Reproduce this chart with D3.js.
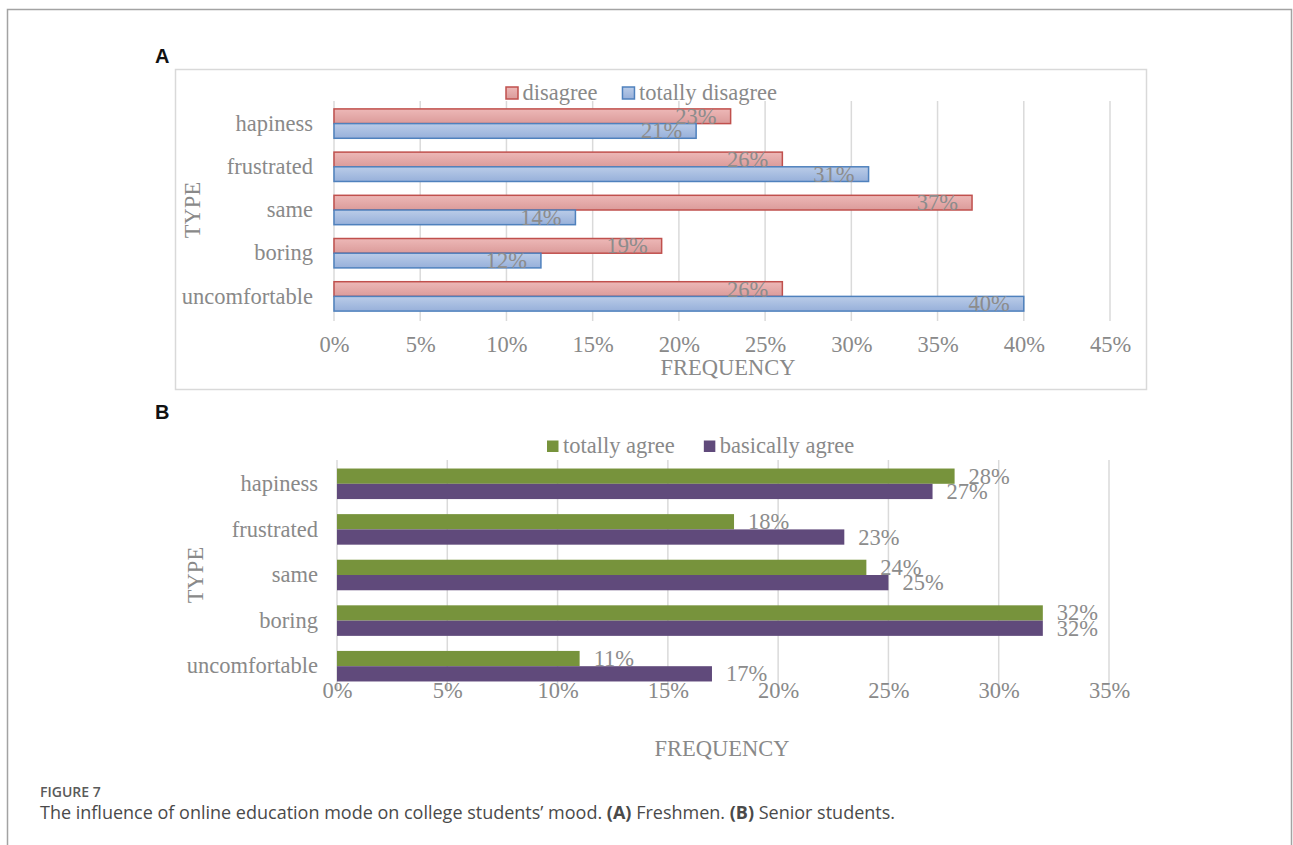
<!DOCTYPE html>
<html>
<head>
<meta charset="utf-8">
<script src="https://cdn.jsdelivr.net/npm/d3@7"></script>
<style>
  html, body { margin: 0; padding: 0; background: #ffffff; }
  svg { display: block; }
</style>
</head>
<body>
<svg id="fig" width="1293" height="845"></svg>
<script>
// Mood categories (top to bottom)
const categories = ["hapiness", "frustrated", "same", "boring", "uncomfortable"];

// Panel A — freshmen (percent)
const seriesA = ["disagree", "totally disagree"];
const disagree = [23, 26, 37, 19, 26];
const totallyDisagree = [21, 31, 14, 12, 40];
const ticksA = [0, 5, 10, 15, 20, 25, 30, 35, 40, 45];

// Panel B — senior students (percent)
const seriesB = ["totally agree", "basically agree"];
const totallyAgree = [28, 18, 24, 32, 11];
const basicallyAgree = [27, 23, 25, 32, 17];
const ticksB = [0, 5, 10, 15, 20, 25, 30, 35];

const svg = d3.select("#fig");
const serif = "'Liberation Serif', 'Times New Roman', serif";
const textGray = "#898989";
const labelGray = "#8c8c8c";
const fs = 22.5;

// gradients for panel A bars
const defs = svg.append("defs");
function grad(id, top, bottom) {
  const g = defs.append("linearGradient").attr("id", id)
    .attr("x1", 0).attr("y1", 0).attr("x2", 0).attr("y2", 1);
  g.append("stop").attr("offset", "0%").attr("stop-color", top);
  g.append("stop").attr("offset", "100%").attr("stop-color", bottom);
}
grad("gRed", "#edb8b7", "#db9b9a");
grad("gBlue", "#bacce8", "#97b0da");

// outer figure frame (open at the bottom)
svg.append("path")
  .attr("d", "M7.5,845 L7.5,9.5 L1291.5,9.5 L1291.5,845")
  .attr("fill", "none").attr("stroke", "#a3a3a3").attr("stroke-width", 1.5);

// panel letters
svg.append("text").attr("x", 155).attr("y", 63).text("A")
  .attr("font-family", "'Liberation Sans', Arial, sans-serif")
  .attr("font-weight", "bold").attr("font-size", 20).attr("fill", "#111");
svg.append("text").attr("x", 155).attr("y", 419).text("B")
  .attr("font-family", "'Liberation Sans', Arial, sans-serif")
  .attr("font-weight", "bold").attr("font-size", 20).attr("fill", "#111");

// chart area border for panel A
svg.append("rect").attr("x", 175.5).attr("y", 69.5).attr("width", 971).attr("height", 320)
  .attr("fill", "none").attr("stroke", "#d9d9d9").attr("stroke-width", 1.5);

function drawPanel(cfg) {
  const g = svg.append("g");
  const x = d3.scaleLinear().domain([0, cfg.max]).range([cfg.x0, cfg.x1]);
  const y = d3.scaleBand().domain(categories).range([cfg.yTop, cfg.yBot])
    .paddingInner(cfg.pad).paddingOuter(cfg.pad / 2);
  const ys = d3.scaleBand().domain(cfg.series).range([0, y.bandwidth()]);

  // vertical gridlines
  g.append("g").selectAll("line").data(cfg.ticks).join("line")
    .attr("x1", d => x(d)).attr("x2", d => x(d))
    .attr("y1", cfg.yTop - 1).attr("y2", cfg.yBot + 3)
    .attr("stroke", "#dadada").attr("stroke-width", 1.5);

  // x axis tick labels
  const axis = d3.axisBottom(x).tickValues(cfg.ticks).tickSize(0).tickPadding(0)
    .tickFormat(d => d + "%");
  const ax = g.append("g").attr("transform", `translate(0,${cfg.tickY})`).call(axis);
  ax.select(".domain").remove();
  ax.selectAll("text").attr("font-family", serif).attr("font-size", fs)
    .attr("fill", textGray).attr("dy", 0).attr("y", 0);

  // category labels
  const ay = d3.axisLeft(y).tickSize(0).tickPadding(0);
  const cy = g.append("g").attr("transform", `translate(${cfg.catX},0)`).call(ay);
  cy.select(".domain").remove();
  cy.selectAll("text").attr("font-family", serif).attr("font-size", fs)
    .attr("fill", textGray).attr("dy", "0.32em");

  // bars
  const rows = categories.map((c, i) => ({ c, vals: cfg.values.map(v => v[i]) }));
  const rowG = g.append("g").selectAll("g").data(rows).join("g")
    .attr("transform", d => `translate(0,${y(d.c)})`);
  rowG.selectAll("rect").data(d => d.vals.map((v, k) => ({ v, s: cfg.series[k], k })))
    .join("rect")
    .attr("x", x(0)).attr("y", d => ys(d.s))
    .attr("width", d => x(d.v) - x(0)).attr("height", ys.bandwidth())
    .attr("fill", d => cfg.fills[d.k])
    .attr("stroke", d => cfg.strokes[d.k] || "none")
    .attr("stroke-width", cfg.strokes.length ? 1.5 : 0);

  // value labels
  rowG.selectAll("text").data(d => d.vals.map((v, k) => ({ v, s: cfg.series[k], k })))
    .join("text")
    .attr("x", d => cfg.inside ? x(d.v) - 14 : x(d.v) + 14)
    .attr("y", d => ys(d.s) + ys.bandwidth() / 2 + 7.5)
    .attr("text-anchor", cfg.inside ? "end" : "start")
    .attr("font-family", serif).attr("font-size", fs).attr("fill", labelGray)
    .text(d => d.v + "%");

  // axis titles
  g.append("text").attr("x", cfg.titleX).attr("y", cfg.titleY)
    .attr("text-anchor", "middle").attr("font-family", serif).attr("font-size", fs)
    .attr("fill", textGray).text("FREQUENCY");
  g.append("text").attr("transform", `translate(${cfg.typeX},${cfg.typeY}) rotate(-90)`)
    .attr("text-anchor", "middle").attr("font-family", serif).attr("font-size", fs)
    .attr("fill", textGray).text("TYPE");

  // legend
  let lx = cfg.legX;
  cfg.series.forEach((s, k) => {
    g.append("rect").attr("x", lx).attr("y", cfg.legY - cfg.sq)
      .attr("width", cfg.sq).attr("height", cfg.sq)
      .attr("fill", cfg.fills[k])
      .attr("stroke", cfg.strokes[k] || "none").attr("stroke-width", cfg.strokes.length ? 1.5 : 0);
    const t = g.append("text").attr("x", lx + cfg.sq + 4.5).attr("y", cfg.legY + 1)
      .attr("font-family", serif).attr("font-size", fs).attr("fill", textGray).text(s);
    lx = lx + cfg.sq + 4.5 + t.node().getComputedTextLength() + cfg.gap;
  });
}

drawPanel({
  series: seriesA, values: [disagree, totallyDisagree], ticks: ticksA, max: 45,
  x0: 334, x1: 1110, yTop: 102, yBot: 318, pad: 0.32,
  fills: ["url(#gRed)", "url(#gBlue)"], strokes: ["#c0504d", "#4f81bd"],
  inside: true, catX: 313, tickY: 352, titleX: 728, titleY: 375,
  typeX: 200, typeY: 210, legX: 506, legY: 99, sq: 12, gap: 25
});

drawPanel({
  series: seriesB, values: [totallyAgree, basicallyAgree], ticks: ticksB, max: 35,
  x0: 337, x1: 1109, yTop: 461, yBot: 689, pad: 0.33,
  fills: ["#77933c", "#604a7b"], strokes: [],
  inside: false, catX: 318, tickY: 698, titleX: 722, titleY: 756,
  typeX: 203, typeY: 575, legX: 547, legY: 452, sq: 11.5, gap: 29
});

// caption
svg.append("text").attr("x", 40).attr("y", 797)
  .attr("font-family", "'Open Sans', 'Noto Sans', sans-serif").attr("font-weight", 600)
  .attr("font-size", 14).attr("fill", "#5a5a5a").text("FIGURE 7");
const cap = svg.append("text").attr("x", 40).attr("y", 819)
  .attr("font-family", "'Open Sans', 'Noto Sans', sans-serif")
  .attr("font-size", 18).attr("fill", "#4a4a4a");
cap.append("tspan").text("The influence of online education mode on college students\u2019 mood. ");
cap.append("tspan").attr("font-weight", 700).text("(A)");
cap.append("tspan").text(" Freshmen. ");
cap.append("tspan").attr("font-weight", 700).text("(B)");
cap.append("tspan").text(" Senior students.");
</script>
</body>
</html>
